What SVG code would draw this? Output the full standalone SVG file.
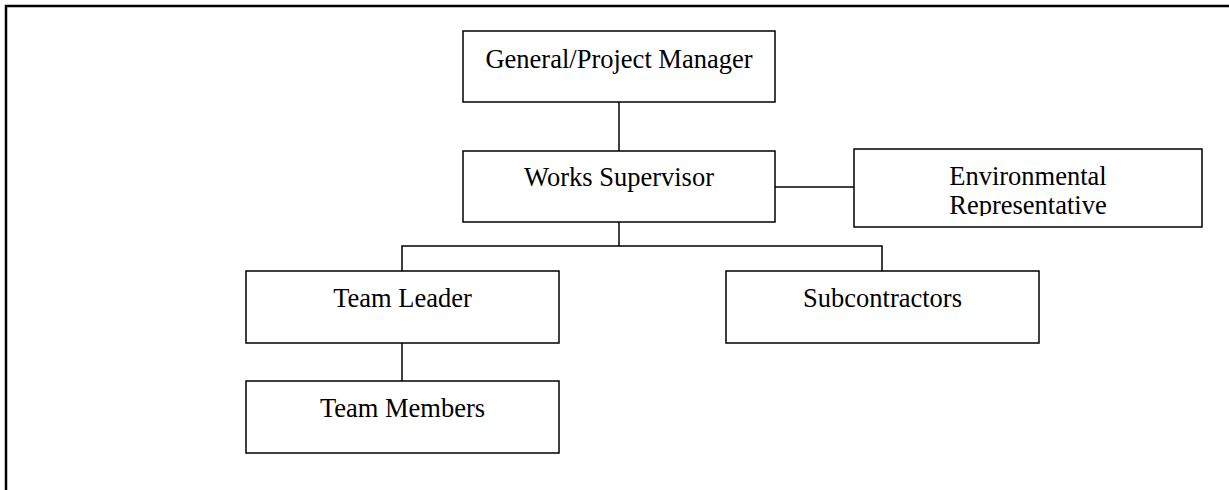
<svg xmlns="http://www.w3.org/2000/svg" width="1229" height="490" viewBox="0 0 1229 490">
<style>
.box{fill:#fff;stroke:#000;stroke-width:1.5}
.lbl{font-family:"Liberation Serif","Times New Roman",serif;font-size:26.5px;fill:#000;text-anchor:middle}
.con{stroke:#000;stroke-width:1.5;fill:none}
.frame{stroke:#000;stroke-width:2.5;fill:none}
</style>
<defs>
<clipPath id="envclip"><rect x="854" y="149" width="348" height="67"/></clipPath>
</defs>
<rect width="1229" height="490" fill="#fff"/>
<path class="frame" d="M6,490 V6 H1229"/>
<g id="connectors">
<line class="con" x1="619" y1="102" x2="619" y2="151"/>
<line class="con" x1="775" y1="187" x2="854" y2="187"/>
<polyline class="con" points="619,222 619,246"/>
<polyline class="con" points="402,271 402,246 882,246 882,271"/>
<line class="con" x1="402" y1="343" x2="402" y2="381"/>
</g>
<g id="general-manager">
<rect class="box" x="463" y="31" width="312" height="71"/>
<text class="lbl" x="619" y="68">General/Project Manager</text>
</g>
<g id="works-supervisor">
<rect class="box" x="463" y="151" width="312" height="71"/>
<text class="lbl" x="619" y="186">Works Supervisor</text>
</g>
<g id="environmental-representative">
<rect class="box" x="854" y="149" width="348" height="78"/>
<g clip-path="url(#envclip)">
<text class="lbl" x="1028" y="185">Environmental</text>
<text class="lbl" x="1028" y="214">Representative</text>
</g>
</g>
<g id="team-leader">
<rect class="box" x="246" y="271" width="313" height="72"/>
<text class="lbl" x="402.5" y="307">Team Leader</text>
</g>
<g id="subcontractors">
<rect class="box" x="726" y="271" width="313" height="72"/>
<text class="lbl" x="882.5" y="307">Subcontractors</text>
</g>
<g id="team-members">
<rect class="box" x="246" y="381" width="313" height="72"/>
<text class="lbl" x="402.5" y="417">Team Members</text>
</g>
</svg>
